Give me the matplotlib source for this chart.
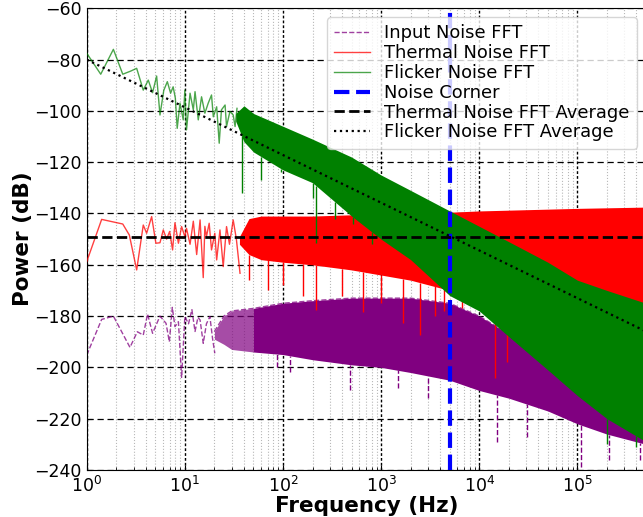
import numpy as np
import matplotlib
matplotlib.use("Agg")
import matplotlib.pyplot as plt

# ---------------- data ----------------
# sparse low-frequency part of each spectrum (Hz, dB)
g_sparse_f = [1.0, 1.39, 1.87, 2.33, 2.8, 3.23, 3.77, 4.24, 4.69, 5.16, 5.58, 6.1, 6.63, 7.16, 7.6, 8.0,
              8.36, 8.92, 9.63, 10.0, 10.4, 11.3, 12.2, 12.7, 13.7, 14.8, 16.0, 17.3, 18.7, 19.5, 21.1,
              22.4, 23.6, 25.7, 26.6, 28.8, 31.1, 32.5, 34.0]
g_sparse_v = [-77.5, -85.7, -76.0, -85.7, -84.5, -83.4, -91.9, -88.0, -92.9, -86.4, -101.6, -92.0, -88.6,
              -93.1, -90.6, -95.0, -106.8, -97.0, -103.5, -91.9, -107.4, -93.1, -99.6, -92.5, -103.5, -94.5,
              -100.9, -97.0, -93.8, -102.3, -98.4, -112.6, -99.6, -97.7, -106.1, -100.2, -101.6, -106.1, -99.0]

r_sparse_f = [1.0, 1.42, 2.33, 2.72, 3.23, 3.77, 4.08, 4.59, 5.07, 5.58, 6.03, 6.52, 7.0, 7.5, 7.93, 8.6,
              9.27, 10.0, 10.4, 11.3, 12.2, 13.2, 14.3, 15.4, 16.0, 16.6, 17.7, 18.7, 20.2, 21.1, 22.8,
              24.6, 26.6, 28.5, 31.1, 33.5, 36.5]
r_sparse_v = [-158.8, -142.3, -144.1, -148.4, -162.0, -144.5, -147.7, -141.2, -151.6, -151.4, -146.4,
              -150.0, -147.0, -154.2, -143.6, -151.6, -145.1, -149.0, -145.8, -152.0, -143.0, -156.0,
              -142.5, -165.0, -145.0, -149.0, -143.8, -154.2, -147.7, -158.1, -146.4, -160.7, -145.1,
              -152.0, -142.5, -150.0, -163.3]

p_sparse_f = [1.0, 1.42, 1.87, 2.76, 3.28, 3.77, 4.17, 4.69, 5.58, 6.43, 6.95, 7.45, 7.93, 8.6, 9.27,
              10.0, 10.9, 11.8, 12.7, 13.6, 14.3, 15.4, 16.6, 18.0, 19.2, 20.2]
p_sparse_v = [-195.2, -181.3, -180.0, -192.2, -186.1, -187.4, -179.2, -186.7, -180.0, -182.8, -190.0,
              -176.6, -184.1, -182.2, -203.9, -180.2, -183.0, -177.5, -186.0, -180.5, -181.5, -190.6,
              -183.0, -180.2, -189.0, -194.5]

# dense part: envelope of the spectrum (upper edge, lower edge of solid core)
g_band_f = [33, 40, 50, 100, 200, 500, 1000, 2000, 5000, 1e4, 2e4, 5e4, 1e5, 2e5, 5e5]
g_band_hi = [-101, -98, -101, -106, -111, -118, -125, -131, -139, -145, -151, -159, -166, -170, -175]
g_band_lo = [-104, -112, -116, -123, -128, -141, -150, -158, -172, -178, -188, -201, -211, -220, -229]

r_band_f = [36, 45, 60, 100, 200, 500, 1000, 2000, 5000, 1e4, 1e5, 5e5]
r_band_hi = [-149, -142, -141, -141, -141, -140.5, -140, -140, -139.5, -139, -138, -137.5]
r_band_lo = [-152, -156, -158, -159, -160, -162, -164, -166, -170, -175, -178, -178]

p_band_f = [20, 25, 30, 50, 100, 200, 500, 1000, 2000, 5000, 1e4, 2e4, 5e4, 1e5, 2e5, 5e5]
p_band_hi = [-186, -180, -178, -177, -175, -174, -173, -173, -173, -175, -180, -187, -196, -203, -209, -215]
p_band_lo = [-189, -191, -193, -194, -195, -197, -199, -200, -202, -205, -209, -212, -217, -222, -226, -230]

# isolated deep dips visible below the dense band
g_spike_f = [38, 60, 96, 202, 219, 338, 516, 800, 2e5, 4e5]
g_spike_v = [-132, -127, -124, -134, -151.5, -142, -144, -152, -230, -231]
r_spike_f = [45, 70, 100, 160, 219, 400, 650, 1000, 1660, 2500, 3500, 4400, 6600, 14400, 19000]
r_spike_v = [-166, -170, -168, -172, -177.7, -172, -178.3, -175, -182.8, -187.3, -180, -178, -177, -204, -198]
p_spike_f = [86, 117, 480, 1500, 3000, 15000, 31000, 110000, 210000, 430000]
p_spike_v = [-199.7, -201.6, -208.8, -208, -212, -229, -227, -238.7, -236, -236]

noise_corner = 5000
thermal_avg = -149
flicker_avg_f = [1, 5e5]
flicker_avg_v = [-80, -186]

# ---------------- figure ----------------
W, H = 643, 517
fig = plt.figure(figsize=(W / 100, H / 100), dpi=100)
ax = fig.add_axes([86.7 / W, (H - 470) / H, (646 - 86.7) / W, (470 - 8.3) / H])

PURPLE, RED, GREEN = "purple", "red", "green"


def band(f, hi, lo, color, z, split=None, light_alpha=0.6):
    f = np.asarray(f, float); hi = np.asarray(hi, float); lo = np.asarray(lo, float)
    if split is None:
        ax.fill_between(f, lo, hi, color=color, lw=0, zorder=z)
    else:
        m1 = f <= split
        m2 = f >= split
        ax.fill_between(f[m1], lo[m1], hi[m1], color=color, lw=0, alpha=light_alpha, zorder=z)
        ax.fill_between(f[m2], lo[m2], hi[m2], color=color, lw=0, zorder=z)


def spikes(sf, sv, bf, blo, color, z, ls="-"):
    base = np.interp(np.log10(sf), np.log10(bf), blo)
    ax.vlines(sf, sv, base, colors=color, lw=1.0, zorder=z, linestyles=ls)


# input noise (purple, dashed)
ax.plot(p_sparse_f, p_sparse_v, color=PURPLE, ls="--", lw=1.0, alpha=0.75, zorder=2,
        label="Input Noise FFT")
band(p_band_f, p_band_hi, p_band_lo, PURPLE, 2, split=50, light_alpha=0.7)
ax.plot(p_band_f, p_band_hi, color=PURPLE, ls="--", lw=1.0, alpha=0.75, zorder=2)
spikes(p_spike_f, p_spike_v, p_band_f, p_band_lo, PURPLE, 2, ls="--")

# thermal noise (red)
ax.plot(r_sparse_f, r_sparse_v, color=RED, lw=1.0, alpha=0.75, zorder=3, label="Thermal Noise FFT")
band(r_band_f, r_band_hi, r_band_lo, RED, 3)
spikes(r_spike_f, r_spike_v, r_band_f, r_band_lo, RED, 3)

# flicker noise (green)
ax.plot(g_sparse_f, g_sparse_v, color=GREEN, lw=1.0, alpha=0.7, zorder=4, label="Flicker Noise FFT")
band(g_band_f, g_band_hi, g_band_lo, GREEN, 4)
spikes(g_spike_f, g_spike_v, g_band_f, g_band_lo, GREEN, 4)

# reference lines
ax.axvline(noise_corner, color="blue", ls="--", lw=3, zorder=4.5, label="Noise Corner")
ax.axhline(thermal_avg, color="black", ls="--", lw=2, zorder=4.6, label="Thermal Noise FFT Average")
ax.plot(flicker_avg_f, flicker_avg_v, color="black", ls=":", lw=1.6, zorder=4.6,
        label="Flicker Noise FFT Average")

ax.set_xscale("log")
ax.set_xlim(1, 5e5)
ax.set_ylim(-240, -60)
ax.set_yticks(np.arange(-240, -59, 20))

ax.grid(which="major", axis="y", color="black", ls=(0, (5, 3)), lw=0.9)
ax.grid(which="major", axis="x", color="black", ls=(0, (2, 1.5)), lw=1.0)
ax.grid(which="minor", axis="x", color="0.72", ls=":", lw=0.8)
ax.tick_params(which="both", direction="in", labelsize=12.5)
ax.tick_params(axis="x", pad=4)

ax.set_xlabel("Frequency (Hz)", fontsize=15.5, fontweight="bold", labelpad=0)
ax.set_ylabel("Power (dB)", fontsize=15.5, fontweight="bold", labelpad=1)

leg = ax.legend(loc="upper right", fontsize=12.9, labelspacing=0.1, handlelength=2.0,
                borderaxespad=0.5, bbox_to_anchor=(1.0, 1.0))
leg.set_zorder(10)

fig.savefig("out.png", dpi=100)
